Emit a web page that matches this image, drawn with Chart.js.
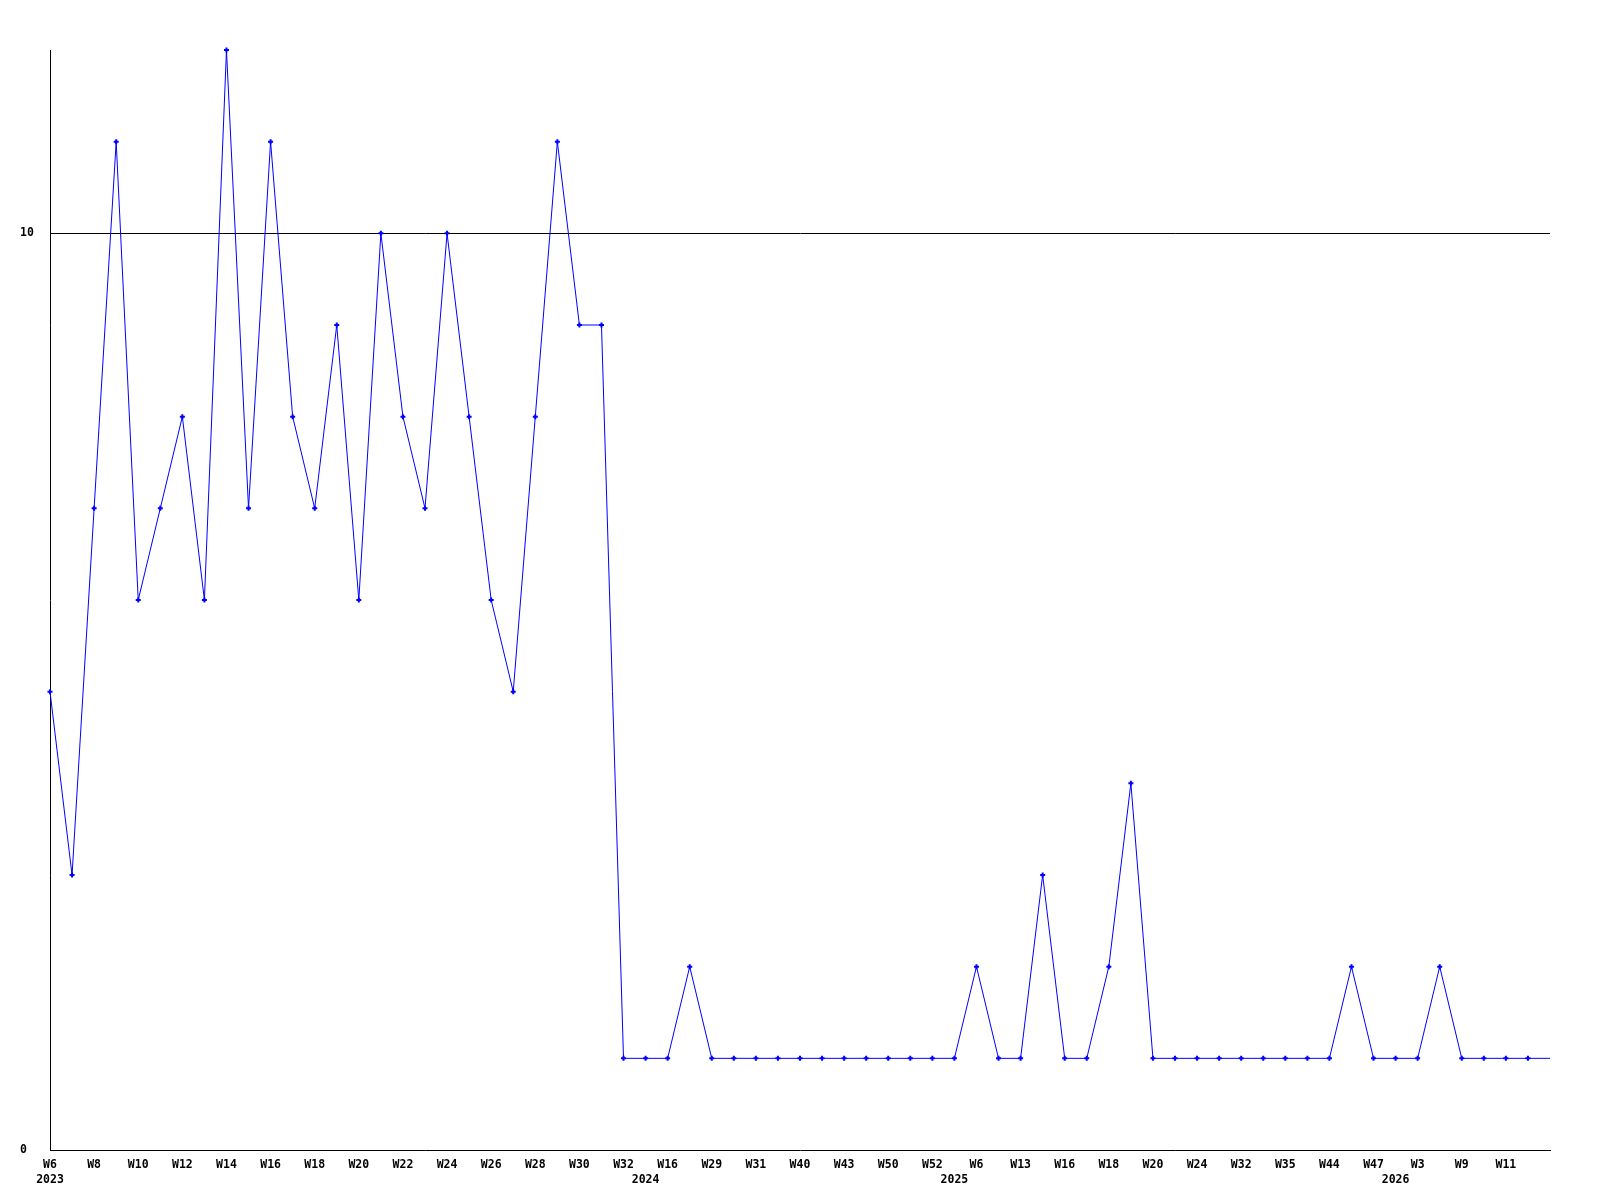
<!DOCTYPE html>
<html>
<head>
<meta charset="utf-8">
<title>Weekly count</title>
<script src="https://cdn.jsdelivr.net/npm/chart.js@4/dist/chart.umd.min.js"></script>
<style>
  body { margin: 0; background: #fff; }
  #weekChart { display: block; }
</style>
</head>
<body>
<canvas id="weekChart" width="1600" height="1200"></canvas>
<script>
// one value per week, oldest first (last one is the running week, no marker)
const values = [
  5, 3, 7, 11, 6, 7, 8, 6, 12, 7, 11, 8, 7, 9, 6, 10, 8, 7, 10, 8, 6, 5, 8, 11, 9, 9,
  1, 1, 1, 2, 1, 1, 1, 1, 1, 1, 1, 1, 1, 1, 1, 1,
  2, 1, 1, 3, 1, 1, 2, 4, 1, 1, 1, 1, 1, 1, 1, 1, 1,
  2, 1, 1, 1, 2, 1, 1, 1, 1, 1
];

// week labels shown under every second point
const weekTicks = [
  'W6', 'W8', 'W10', 'W12', 'W14', 'W16', 'W18', 'W20', 'W22', 'W24', 'W26', 'W28', 'W30', 'W32',
  'W16', 'W29', 'W31', 'W40', 'W43', 'W50', 'W52',
  'W6', 'W13', 'W16', 'W18', 'W20', 'W24', 'W32', 'W35', 'W44', 'W47',
  'W3', 'W9', 'W11'
];

// year shown under the first point of that year
const years = ['2023', '2024', '2025', '2026'];
const yearStart = [0, 27, 41, 61];

const yTicks = [0, 10];

const points = values.map((v, i) => ({ x: i, y: v }));
const lastIdx = values.length - 1;

const tickFont = { family: 'DejaVu Sans Mono', size: 11.5, weight: 'bold', lineHeight: 1.35 };

const ctx = document.getElementById('weekChart').getContext('2d');
const weekChart = new Chart(ctx, {
  type: 'line',
  data: {
    datasets: [{
      data: points,
      borderColor: '#0000ff',
      backgroundColor: '#0000ff',
      borderWidth: 1,
      tension: 0,
      clip: false,
      pointStyle: 'cross',
      pointRadius: c => c.dataIndex === lastIdx ? 0 : 2.5,
      pointBorderWidth: 2,
      pointHoverRadius: 2.5
    }]
  },
  options: {
    responsive: false,
    animation: false,
    events: [],
    layout: { padding: { top: 50, right: 50, left: 20, bottom: 12 } },
    plugins: { legend: { display: false }, tooltip: { enabled: false } },
    scales: {
      x: {
        type: 'linear',
        min: 0,
        max: values.length - 1,
        afterBuildTicks: scale => {
          const ticks = [];
          for (let i = 0; i < values.length; i++) {
            if (i % 2 === 0 && weekTicks[i / 2] || yearStart.includes(i)) ticks.push({ value: i });
          }
          scale.ticks = ticks;
        },
        afterFit: scale => { scale.height = 38; },
        grid: { color: 'transparent', drawTicks: false },
        border: { display: true, color: '#000', width: 1 },
        ticks: {
          autoSkip: false,
          maxRotation: 0,
          padding: 7,
          color: '#000',
          font: tickFont,
          callback: v => {
            const week = v % 2 === 0 ? (weekTicks[v / 2] || '') : '';
            const y = yearStart.indexOf(v);
            return y >= 0 ? [week, years[y]] : week;
          }
        }
      },
      y: {
        min: 0,
        max: 12,
        afterBuildTicks: scale => { scale.ticks = yTicks.map(v => ({ value: v })); },
        afterFit: scale => { scale.width = 30; },
        grid: {
          color: c => c.tick && c.tick.value === 10 ? '#000' : 'transparent',
          drawTicks: false
        },
        border: { display: true, color: '#000', width: 1 },
        ticks: {
          crossAlign: 'far',
          color: '#000',
          font: tickFont
        }
      }
    }
  },
  plugins: [{
    id: 'whiteBg',
    beforeDraw: c => {
      c.ctx.save();
      c.ctx.fillStyle = '#fff';
      c.ctx.fillRect(0, 0, c.width, c.height);
      c.ctx.restore();
    }
  }]
});
</script>
</body>
</html>
